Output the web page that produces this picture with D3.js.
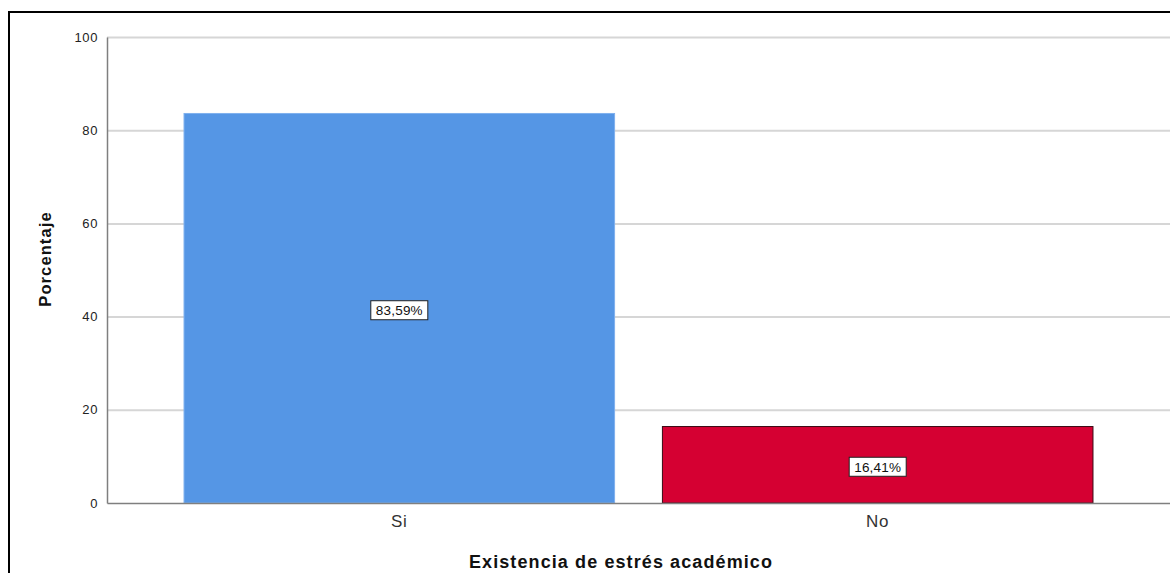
<!DOCTYPE html>
<html><head><meta charset="utf-8">
<script src="https://cdn.jsdelivr.net/npm/d3@7"></script>
<style>body{margin:0;background:#fff;}svg{display:block;font-family:Arial,"Liberation Sans",sans-serif;}</style>
</head><body><svg id="c" width="1170" height="573"></svg>
<script>
const categories = ["Si", "No"];
const values = [83.59, 16.41];
const valueLabels = ["83,59%", "16,41%"];
const colors = ["#5596e5", "#d50032"];
const yTicks = [0, 20, 40, 60, 80, 100];
const xTitle = "Existencia de estrés académico";
const yTitle = "Porcentaje";

(function(){
const svg = d3.select("#c");
const mLeft = 107, mRight = 1170, mTop = 37, mBottom = 503;
const ff = "Arial, 'Liberation Sans', sans-serif";

// frame
svg.append("path").attr("d", `M9,573 V12 H1170`).attr("fill","none").attr("stroke","#000").attr("stroke-width",2);

const y = d3.scaleLinear().domain([0,100]).range([mBottom, mTop]);
const x = d3.scaleBand().domain(categories).range([mLeft, mRight]).paddingInner(0.1).paddingOuter(0.161);

// gridlines
svg.append("g").selectAll("line").data(yTicks.filter(d=>d>0)).join("line")
  .attr("x1", mLeft).attr("x2", mRight).attr("y1", d=>y(d)+0.5).attr("y2", d=>y(d)+0.5)
  .attr("stroke","#d6d6d6").attr("stroke-width",2);

// y axis
const ya = svg.append("g").attr("transform",`translate(${mLeft},0)`)
  .call(d3.axisLeft(y).tickValues(yTicks).tickSize(0).tickPadding(9));
ya.select(".domain").attr("stroke","#7f7f7f").attr("stroke-width",1.5);
ya.selectAll("text").attr("font-size",13).attr("letter-spacing","0.6px").attr("fill","#222").attr("font-family",ff);

// bars
svg.append("g").selectAll("rect").data(categories).join("rect")
  .attr("x", d=>x(d)).attr("width", x.bandwidth())
  .attr("y", (d,i)=>y(values[i])).attr("height", (d,i)=>mBottom - y(values[i]))
  .attr("fill", (d,i)=>colors[i])
  .attr("stroke", (d,i)=> i===0 ? "#7fb0ee" : "#3a0a14").attr("stroke-width",1);

// x axis
const xa = svg.append("g").attr("transform",`translate(0,${mBottom})`)
  .call(d3.axisBottom(x).tickSize(0).tickPadding(12));
xa.select(".domain").attr("stroke","#7f7f7f").attr("stroke-width",1.5);
xa.selectAll("text").attr("font-size",17).attr("letter-spacing","0.8px").attr("fill","#333").attr("font-family",ff);

// value labels
const lg = svg.append("g").selectAll("g").data(categories).join("g")
  .attr("transform",(d,i)=>`translate(${x(d)+x.bandwidth()/2},${(y(values[i])+mBottom)/2+2})`);
lg.append("rect").attr("x",-28.5).attr("y",-9.5).attr("width",57).attr("height",19)
  .attr("fill","#fff").attr("stroke","#222").attr("stroke-width",1);
lg.append("text").text((d,i)=>valueLabels[i]).attr("text-anchor","middle").attr("dy","0.36em")
  .attr("font-size",13.5).attr("letter-spacing","0.2px").attr("fill","#111");

// titles
svg.append("text").attr("x", 621).attr("y", 568).attr("text-anchor","middle")
  .attr("font-size",18).attr("letter-spacing","1.1px").attr("font-weight","bold").attr("fill","#111").text(xTitle);
svg.append("text").attr("transform","translate(51,259) rotate(-90)").attr("text-anchor","middle")
  .attr("font-size",16.5).attr("letter-spacing","1.1px").attr("font-weight","bold").attr("fill","#111").text(yTitle);
})();
</script></body></html>
